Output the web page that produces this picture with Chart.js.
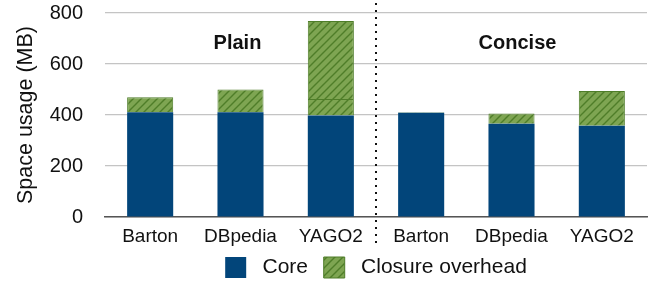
<!DOCTYPE html>
<html>
<head>
<meta charset="utf-8">
<script src="https://cdn.jsdelivr.net/npm/chart.js@4.4.0/dist/chart.umd.min.js"></script>
<style>
  html, body { margin: 0; padding: 0; background: #fff; }
  #wrap { width: 657px; height: 285px; }
</style>
</head>
<body>
<div id="wrap"><canvas id="chart"></canvas></div>
<script>
// data
const categories = ['Barton', 'DBpedia', 'YAGO2', 'Barton', 'DBpedia', 'YAGO2'];
const groups = ['Plain', 'Concise'];
const coreMB = [411, 411, 398, 409, 366, 358];
const overheadMB = [59, 89, 65, 2, 40, 136];
// YAGO2 (plain) overhead is drawn in two pieces in the original
const overheadExtraMB = [0, 0, 306, 0, 0, 0];
const yTicks = [0, 200, 400, 600, 800];

const FONT = 'Liberation Sans, Arial, sans-serif';
const CORE = '#02457a';
const GREEN = '#7ea552';
const GREEN_DARK = '#4f7d29';

// hatched green fill
function makeHatch() {
    const c = document.createElement('canvas');
    c.width = 8; c.height = 8;
    const g = c.getContext('2d');
    g.fillStyle = GREEN;
    g.fillRect(0, 0, 8, 8);
    g.strokeStyle = GREEN_DARK;
    g.lineWidth = 1.4;
    g.beginPath();
    g.moveTo(-2, 10); g.lineTo(10, -2);
    g.moveTo(-2, 2); g.lineTo(2, -2);
    g.moveTo(6, 10); g.lineTo(10, 6);
    g.stroke();
    return document.getElementById('chart').getContext('2d').createPattern(c, 'repeat');
}
const hatch = makeHatch();

// dotted separator + group titles
const groupPlugin = {
    id: 'groupPlugin',
    afterDatasetsDraw(chart) {
        const { ctx, scales: { x } } = chart;
        const sepX = Math.round((x.getPixelForValue(2) + x.getPixelForValue(3)) / 2);
        ctx.save();
        ctx.fillStyle = '#111';
        for (let y = 3; y < 246; y += 7) {
            ctx.fillRect(sepX - 1, y, 2, 2);
        }
        ctx.font = 'bold 20px ' + FONT;
        ctx.textAlign = 'center';
        ctx.textBaseline = 'middle';
        ctx.fillText(groups[0], x.getPixelForValue(1) - 3, 43);
        ctx.fillText(groups[1], x.getPixelForValue(4) + 6, 43);
        ctx.restore();
    }
};

new Chart(document.getElementById('chart'), {
    type: 'bar',
    data: {
        labels: categories,
        datasets: [
            {
                label: 'Core',
                data: coreMB,
                backgroundColor: CORE,
                borderWidth: 0
            },
            {
                label: 'Closure overhead',
                data: overheadMB,
                backgroundColor: hatch,
                borderColor: GREEN_DARK,
                borderWidth: 1
            },
            {
                label: 'extra',
                data: overheadExtraMB,
                backgroundColor: hatch,
                borderColor: GREEN_DARK,
                borderWidth: 1
            }
        ]
    },
    options: {
        responsive: true,
        maintainAspectRatio: false,
        animation: false,
        devicePixelRatio: 1,
        layout: { padding: { top: 0, right: 10, left: 0, bottom: -3 } },
        datasets: {
            bar: { categoryPercentage: 1, barPercentage: 0.51 }
        },
        plugins: {
            legend: {
                position: 'bottom',
                fullSize: false,
                labels: {
                    color: '#111',
                    font: { family: FONT, size: 21 },
                    boxWidth: 21,
                    boxHeight: 21,
                    padding: 4,
                    generateLabels: chart => {
                        const items = Chart.defaults.plugins.legend.labels.generateLabels(chart)
                            .filter(it => it.datasetIndex < 2);
                        items.forEach(it => { it.text = ' ' + it.text + (it.datasetIndex === 0 ? '  ' : ''); });
                        return items;
                    }
                }
            },
            tooltip: { enabled: false }
        },
        scales: {
            x: {
                stacked: true,
                grid: { display: false, drawTicks: false },
                border: { color: '#555', width: 1.5 },
                ticks: { color: '#111', font: { family: FONT, size: 19 }, padding: 8 },
                afterFit: s => { s.height = 36; }
            },
            y: {
                stacked: true,
                min: 0,
                max: 800,
                afterBuildTicks: s => { s.ticks = yTicks.map(v => ({ value: v })); },
                afterFit: s => { s.width = 105; s.paddingTop = 13; s.paddingBottom = 0; },
                grid: { color: '#c4c4c4', lineWidth: 1.2, drawTicks: false },
                border: { display: false },
                ticks: { color: '#111', font: { family: FONT, size: 20 }, padding: 22 },
                title: {
                    display: true,
                    text: 'Space usage (MB)',
                    color: '#111',
                    font: { family: FONT, size: 21.5 },
                    padding: { top: 13, bottom: 0 }
                }
            }
        }
    },
    plugins: [groupPlugin]
});
</script>
</body>
</html>
